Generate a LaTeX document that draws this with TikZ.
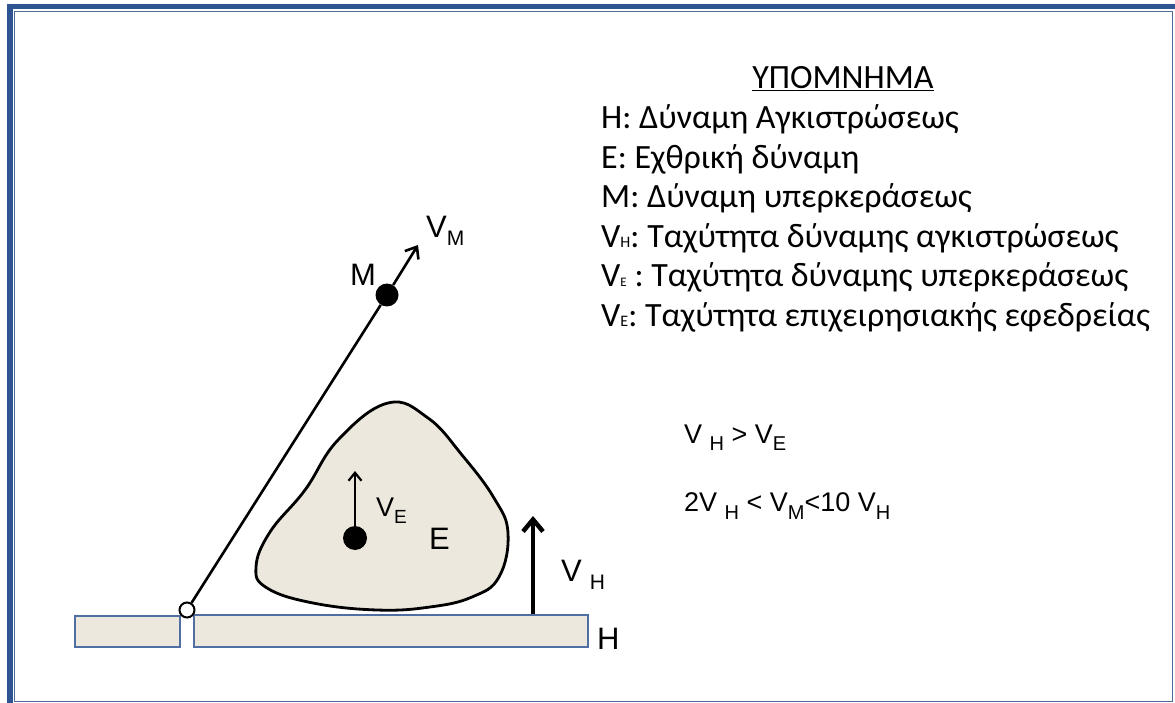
\documentclass[tikz,border=0pt]{standalone}
\usepackage{fontspec}
\setmainfont{Carlito}
\newfontfamily\arialf{Liberation Sans}
\usetikzlibrary{arrows.meta}
\definecolor{framebl}{HTML}{2E5591}
\definecolor{innerbl}{HTML}{4D6B9C}
\definecolor{beige}{HTML}{EDE8DE}
\definecolor{barbl}{HTML}{4F6FA3}
\newcommand{\mysub}[3]{\raisebox{-#1}{\fontsize{#2}{#2}\selectfont #3}}
\newcommand{\legsub}[2]{{\fontsize{#1}{#1}\selectfont #2}}
\tikzset{
  leg/.style={font=\fontsize{34}{40}\selectfont, anchor=base west, inner sep=0pt},
  lab/.style={font=\arialf\fontsize{31}{31}\selectfont, anchor=base west, inner sep=0pt},
  frm/.style={font=\arialf\fontsize{27}{27}\selectfont, anchor=base west, inner sep=0pt},
  bar/.style={draw=barbl, fill=beige, line width=1.4pt, inner sep=0pt},
  dot/.style={circle, fill=black, inner sep=0pt},
  conn/.style={line width=2.6pt},
  barb/.style={-{Straight Barb[length=10pt,width=16pt]}},
}
\begin{document}
\begin{tikzpicture}[x=1pt,y=-1pt]
\useasboundingbox (0,0) rectangle (1175,703);
% frame
\fill[framebl] (7,4) rectangle (1175,9.5);
\fill[framebl] (7,4) rectangle (12.5,703);
\draw[innerbl, line width=1.6pt] (14.5,11.5) rectangle (1172.5,701.5);

% legend
\node[font=\fontsize{34}{40}\selectfont, anchor=base, inner sep=0pt] (title) at (843,89) {\underline{ΥΠΟΜΝΗΜΑ}};
\node[leg] (l1) at (601,129) {H: Δύναμη Αγκιστρώσεως};
\node[leg] (l2) at (601,168.5) {E: Εχθρική δύναμη};
\node[leg] (l3) at (601,208) {M: Δύναμη υπερκεράσεως};
\node[leg] (l4) at (601,247.5) {V\legsub{16}{H}: Ταχύτητα δύναμης αγκιστρώσεως};
\node[leg] (l5) at (601,287) {V\legsub{13}{E} : Ταχύτητα δύναμης υπερκεράσεως};
\node[leg] (l6) at (601,326.5) {V\legsub{16}{E}: Ταχύτητα επιχειρησιακής εφεδρείας};

% ground bars
\node[bar, minimum width=105pt, minimum height=31pt] (barL) at (127.5,631.5) {};
\node[bar, minimum width=394pt, minimum height=32pt] (barR) at (391,631) {};
\node[lab] (lblH) at (597,649) {H};

% enemy blob
\draw[line width=2.8pt, fill=beige] plot[smooth cycle, tension=0.7] coordinates {
 (388,403) (428,418) (462,455) (494,498) (508,533) (499,577) (472,597)
 (430,607) (377,610) (313,603) (267,588) (256,567) (270,532) (305,490) (338,440)};
\node[dot, minimum size=24pt] (edot) at (355,538) {};
\coordinate (vetip) at (355,471);
\draw[line width=2.2pt, -{Straight Barb[length=8pt,width=13pt]}] (edot) -- (vetip);
\node[lab, font=\arialf\fontsize{27}{27}\selectfont] (lblVE) at (376,516) {V\mysub{7pt}{19}{E}};
\node[lab] (lblE) at (429,549) {E};

% manoeuvre force
\node[circle, draw, fill=white, line width=2pt, minimum size=15pt, inner sep=0pt] (pivot) at (187,610) {};
\node[dot, minimum size=23pt] (mdot) at (387,295) {};
\coordinate (vmtip) at (418,245);
\draw[conn] (pivot) -- (mdot);
\draw[conn, barb] (mdot) -- (vmtip);
\node[lab] (lblM) at (350,286) {M};
\node[lab] (lblVM) at (426,238) {V\mysub{8pt}{21}{M}};

% holding force speed
\coordinate (vhtip) at (533,516);
\draw[line width=4.5pt, -{Straight Barb[length=12pt,width=20pt]}] (vhtip |- barR.north) -- (vhtip);
\node[lab] (lblVH) at (561,581) {V\hspace{8pt}\mysub{8pt}{21}{H}};

% relations
\node[frm] (f1) at (684,443) {V \mysub{7pt}{20}{H} > V\mysub{7pt}{20}{E}};
\node[frm] (f2) at (684,511) {2V \mysub{8pt}{20}{H} < V\mysub{8pt}{20}{M}<10 V\mysub{8pt}{20}{H}};
\end{tikzpicture}
\end{document}
